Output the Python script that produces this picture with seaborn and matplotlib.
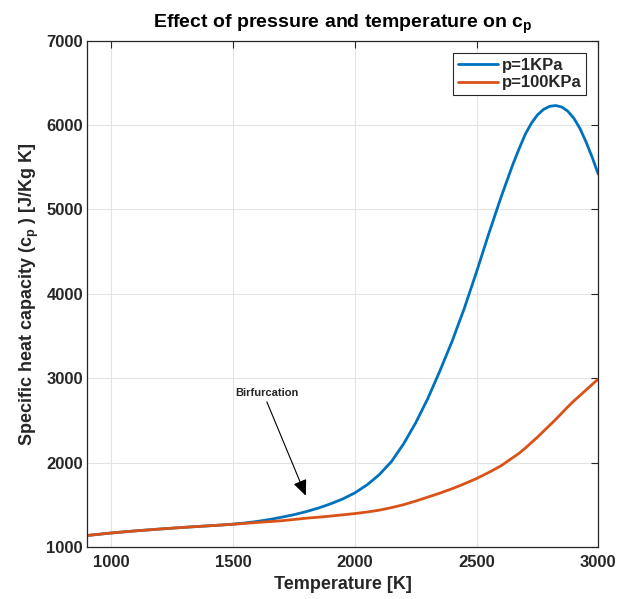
import pandas as pd
import matplotlib
matplotlib.use('Agg')
import matplotlib.pyplot as plt
import seaborn as sns

# Data
temperature = [900, 950, 1000, 1050, 1100, 1150, 1200, 1250, 1300, 1350,
               1400, 1450, 1500, 1550, 1600, 1650, 1700, 1750, 1800, 1850,
               1900, 1950, 2000, 2050, 2100, 2150, 2200, 2250, 2300, 2350,
               2400, 2450, 2500, 2550, 2600, 2650, 2675, 2700, 2725, 2750,
               2775, 2800, 2825, 2850, 2875, 2900, 2925, 2950, 2975, 3000]
cp_1kpa = [1135, 1150, 1165, 1178, 1190, 1201, 1212, 1222, 1232, 1241,
           1250, 1259, 1270, 1284, 1302, 1325, 1352, 1382, 1418, 1460,
           1510, 1568, 1640, 1735, 1855, 2010, 2220, 2470, 2760, 3090,
           3440, 3830, 4260, 4710, 5140, 5540, 5720, 5890, 6020, 6120,
           6185, 6222, 6232, 6215, 6165, 6080, 5960, 5800, 5620, 5420]
cp_100kpa = [1135, 1150, 1165, 1178, 1190, 1201, 1212, 1222, 1232, 1241,
             1250, 1259, 1268, 1279, 1290, 1300, 1310, 1325, 1340, 1352,
             1365, 1380, 1395, 1413, 1435, 1465, 1500, 1543, 1590, 1638,
             1690, 1748, 1810, 1882, 1960, 2060, 2110, 2170, 2235, 2300,
             2370, 2440, 2510, 2585, 2660, 2730, 2795, 2860, 2925, 2990]
series_names = ['p=1KPa', 'p=100KPa']
series_colors = ['#0072BD', '#D95319']

df = pd.DataFrame({
    'T': temperature * 2,
    'cp': cp_1kpa + cp_100kpa,
    'p': [series_names[0]] * len(temperature) + [series_names[1]] * len(temperature),
})

sns.set_style('whitegrid', {'grid.color': '#e3e3e3', 'axes.edgecolor': '#262626'})
plt.rcParams['font.family'] = ['Liberation Sans', 'DejaVu Sans']
plt.rcParams['font.weight'] = 'bold'
plt.rcParams['mathtext.fontset'] = 'custom'
plt.rcParams['mathtext.bf'] = 'Liberation Sans:bold'
plt.rcParams['mathtext.rm'] = 'Liberation Sans:bold'
plt.rcParams['mathtext.default'] = 'bf'

fig = plt.figure(figsize=(6.18, 5.99), dpi=100)
ax = fig.add_axes([0.141, 0.087, 0.827, 0.845])

sns.lineplot(data=df, x='T', y='cp', hue='p', palette=series_colors,
             linewidth=2.0, ax=ax)

ax.set_xlim(900, 3000)
ax.set_ylim(1000, 7000)
ax.set_xticks([1000, 1500, 2000, 2500, 3000])
ax.set_yticks([1000, 2000, 3000, 4000, 5000, 6000, 7000])
ax.tick_params(direction='in', length=5, width=0.8, top=True, right=True,
               labelsize=12, colors='#262626')
ax.tick_params(axis='x', pad=6)
ax.tick_params(axis='y', pad=3)
for lab in ax.get_xticklabels() + ax.get_yticklabels():
    lab.set_fontweight('bold')
for sp in ax.spines.values():
    sp.set_linewidth(0.9)
    sp.set_color('#262626')
ax.grid(True, color='#e3e3e3', linewidth=0.8)

ax.set_title('Effect of pressure and temperature on c$_{p}$',
             fontsize=14, fontweight='bold', color='black', pad=9)
ax.set_xlabel('Temperature [K]', fontsize=13, fontweight='bold', color='#262626')
ax.set_ylabel('Specific heat capacity (c$_{p}$ ) [J/Kg K]', fontsize=13,
              fontweight='bold', color='#262626', labelpad=4)

leg = ax.legend(loc='upper right', bbox_to_anchor=(0.977, 0.976),
                borderaxespad=0, fancybox=False, framealpha=1,
                edgecolor='#262626', fontsize=12, handlelength=2.4,
                handletextpad=0.2, borderpad=0.3, labelspacing=0.15)
leg.get_frame().set_linewidth(0.8)
for t in leg.get_texts():
    t.set_fontweight('bold')

# Birfurcation annotation
ax.text(1510, 2830, 'Birfurcation', fontsize=8, fontweight='bold',
        ha='left', va='center')
ax.annotate('', xy=(1803, 1576), xytext=(1634, 2750),
            arrowprops=dict(arrowstyle='-|>,head_length=0.8,head_width=0.35',
                            color='black', lw=0.8, mutation_scale=12))

fig.savefig('out.png', dpi=100)
